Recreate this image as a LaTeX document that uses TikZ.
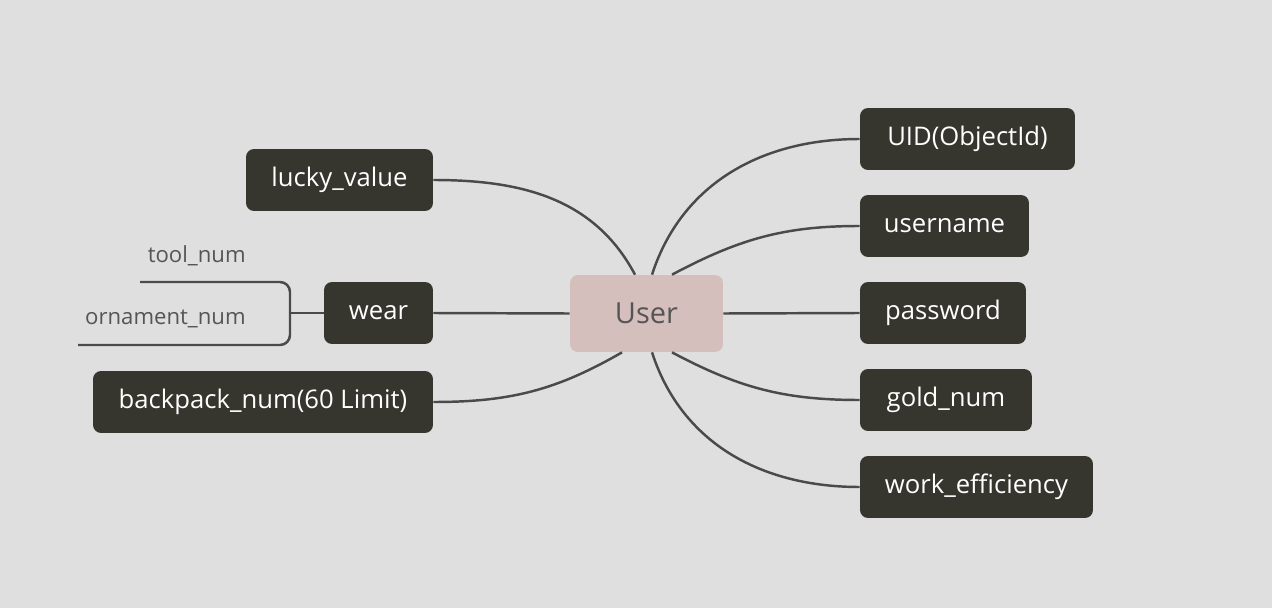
\documentclass[tikz,border=0pt]{standalone}
\usepackage{fontspec}
\setmainfont{Open Sans}
\definecolor{bgcol}{HTML}{DFDFDF}
\definecolor{boxcol}{HTML}{36362F}
\definecolor{usercol}{HTML}{D5BFBC}
\definecolor{linecol}{HTML}{4A4A4A}
\definecolor{labcol}{HTML}{555555}
\tikzset{
  field/.style={fill=boxcol, text=white, rounded corners=0.16cm, inner sep=0pt,
    minimum height=1.24cm, font=\fontsize{14.6}{17}\selectfont},
  branch/.style={draw=linecol, line width=1.4pt},
  sublabel/.style={text=labcol, font=\fontsize{12.6}{15}\selectfont, anchor=east, inner sep=0pt}
}
\begin{document}
\begin{tikzpicture}[x=0.02cm, y=-0.02cm]

% Hintergrund
\fill[bgcol] (0,0) rectangle (1272,608);

% Zentrum
\node[fill=usercol, text=labcol, rounded corners=0.16cm, minimum width=3.06cm, minimum height=1.54cm,
  font=\fontsize{16.5}{20}\selectfont] (user) at (646.5,313.5) {User};

% Felder rechts
\node[field, minimum width=4.30cm] (uid) at (967.5,139) {UID(ObjectId)};
\node[field, minimum width=3.38cm] (username) at (944.5,226) {username};
\node[field, minimum width=3.32cm] (password) at (943,313) {password};
\node[field, minimum width=3.44cm] (gold) at (946,400) {gold\_num};
\node[field, minimum width=4.66cm] (work) at (976.5,487) {work\_efficiency};

% Felder links
\node[field, minimum width=3.74cm] (lucky) at (339.5,180) {lucky\_value};
\node[field, minimum width=2.18cm] (wear) at (378.5,313) {wear};
\node[field, minimum width=6.80cm] (backpack) at (263,402) {backpack\_num(60 Limit)};

% Unterpunkte von wear
\node[sublabel] (tool) at (246,256) {tool\_num};
\node[sublabel] (ornament) at (246,319) {ornament\_num};
\coordinate (toolend) at (140,282);
\coordinate (ornamentend) at (78,345);
\coordinate (bracket) at (290,313);

% Verbindungen rechts
\draw[branch] ([xshift=0.11cm]user.north) to[out=72, in=180] (uid.west);
\draw[branch] ([xshift=0.51cm]user.north) to[out=28, in=180] (username.west);
\draw[branch] (user.east) -- (password.west);
\draw[branch] ([xshift=0.51cm]user.south) to[out=-28, in=180] (gold.west);
\draw[branch] ([xshift=0.11cm]user.south) to[out=-72, in=180] (work.west);

% Verbindungen links
\draw[branch] ([xshift=-0.23cm]user.north) to[out=118, in=0] (lucky.east);
\draw[branch] (user.west) -- (wear.east);
\draw[branch] ([xshift=-0.49cm]user.south) to[out=-150, in=0] (backpack.east);

% Klammer
\draw[branch] (wear.west) -- (bracket);
\draw[branch, rounded corners=0.2cm] (toolend) -- (toolend -| bracket) -- (ornamentend -| bracket) -- (ornamentend);

\end{tikzpicture}
\end{document}
